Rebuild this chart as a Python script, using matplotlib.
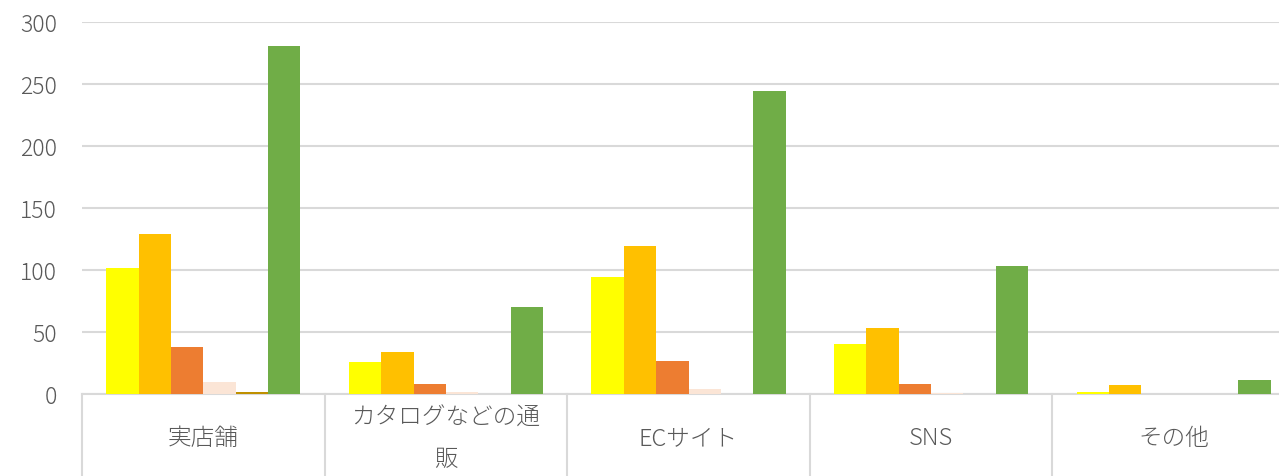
import numpy as np
import matplotlib
matplotlib.use("Agg")
from matplotlib import pyplot as plt
from matplotlib import transforms

plt.rcParams['font.family'] = ['Noto Sans CJK JP', 'DejaVu Sans']

# Channels (x categories)
categories = ["実店舗", "カタログなどの通\n販", "ECサイト", "SNS", "その他"]

# One list per series, in drawing order
series_a = [102, 26, 94, 40, 2]
series_b = [129, 34, 119, 53, 7]
series_c = [38, 8, 27, 8, 0]
series_d = [10, 2, 4, 1, 0]
series_e = [2, 0, 0, 0, 0]
series_f = [281, 70, 244, 103, 11]

series = [series_a, series_b, series_c, series_d, series_e, series_f]
colors = ["#FFFF00", "#FFC000", "#ED7D31", "#FBE5D6", "#BF9000", "#70AD47"]

grey = "#595959"
line_grey = "#D9D9D9"

fig = plt.figure(figsize=(12.79, 4.76), dpi=100)
ax = fig.add_axes([82 / 1279, 82 / 476, 1213 / 1279, 372 / 476])

x = np.arange(len(categories))
n = len(series)
bar_w = 1 / 7.5
offsets = (np.arange(n) - (n - 1) / 2) * bar_w

for vals, col, off in zip(series, colors, offsets):
    ax.bar(x + off, vals, width=bar_w, color=col, linewidth=0, zorder=3)

ax.set_xlim(-0.5, len(categories) - 0.5)
ax.set_ylim(0, 300)
ax.set_yticks(range(0, 301, 50))
ax.tick_params(axis='y', length=0, pad=18, labelcolor=grey)
for lbl in ax.get_yticklabels():
    lbl.set_fontsize(16.5)
    lbl.set_fontweight('light')
ax.set_xticks([])

ax.grid(axis='y', color=line_grey, linewidth=1.5, zorder=0)
for side in ["top", "right", "left"]:
    ax.spines[side].set_visible(False)
ax.spines["bottom"].set_color(line_grey)
ax.spines["bottom"].set_linewidth(1.5)

# Category table below the axis
trans = transforms.blended_transform_factory(ax.transData, ax.transAxes)
for b in np.arange(len(categories)) - 0.5:
    ax.plot([b, b], [0, -0.3], transform=trans, color=line_grey,
            linewidth=1.5, clip_on=False, zorder=1)

for xi, label in zip(x, categories):
    ax.text(xi, -0.12, label, transform=trans, ha='center', va='center',
            fontsize=17, fontweight='light', color=grey, linespacing=1.85)

fig.savefig("out.png", dpi=100)
